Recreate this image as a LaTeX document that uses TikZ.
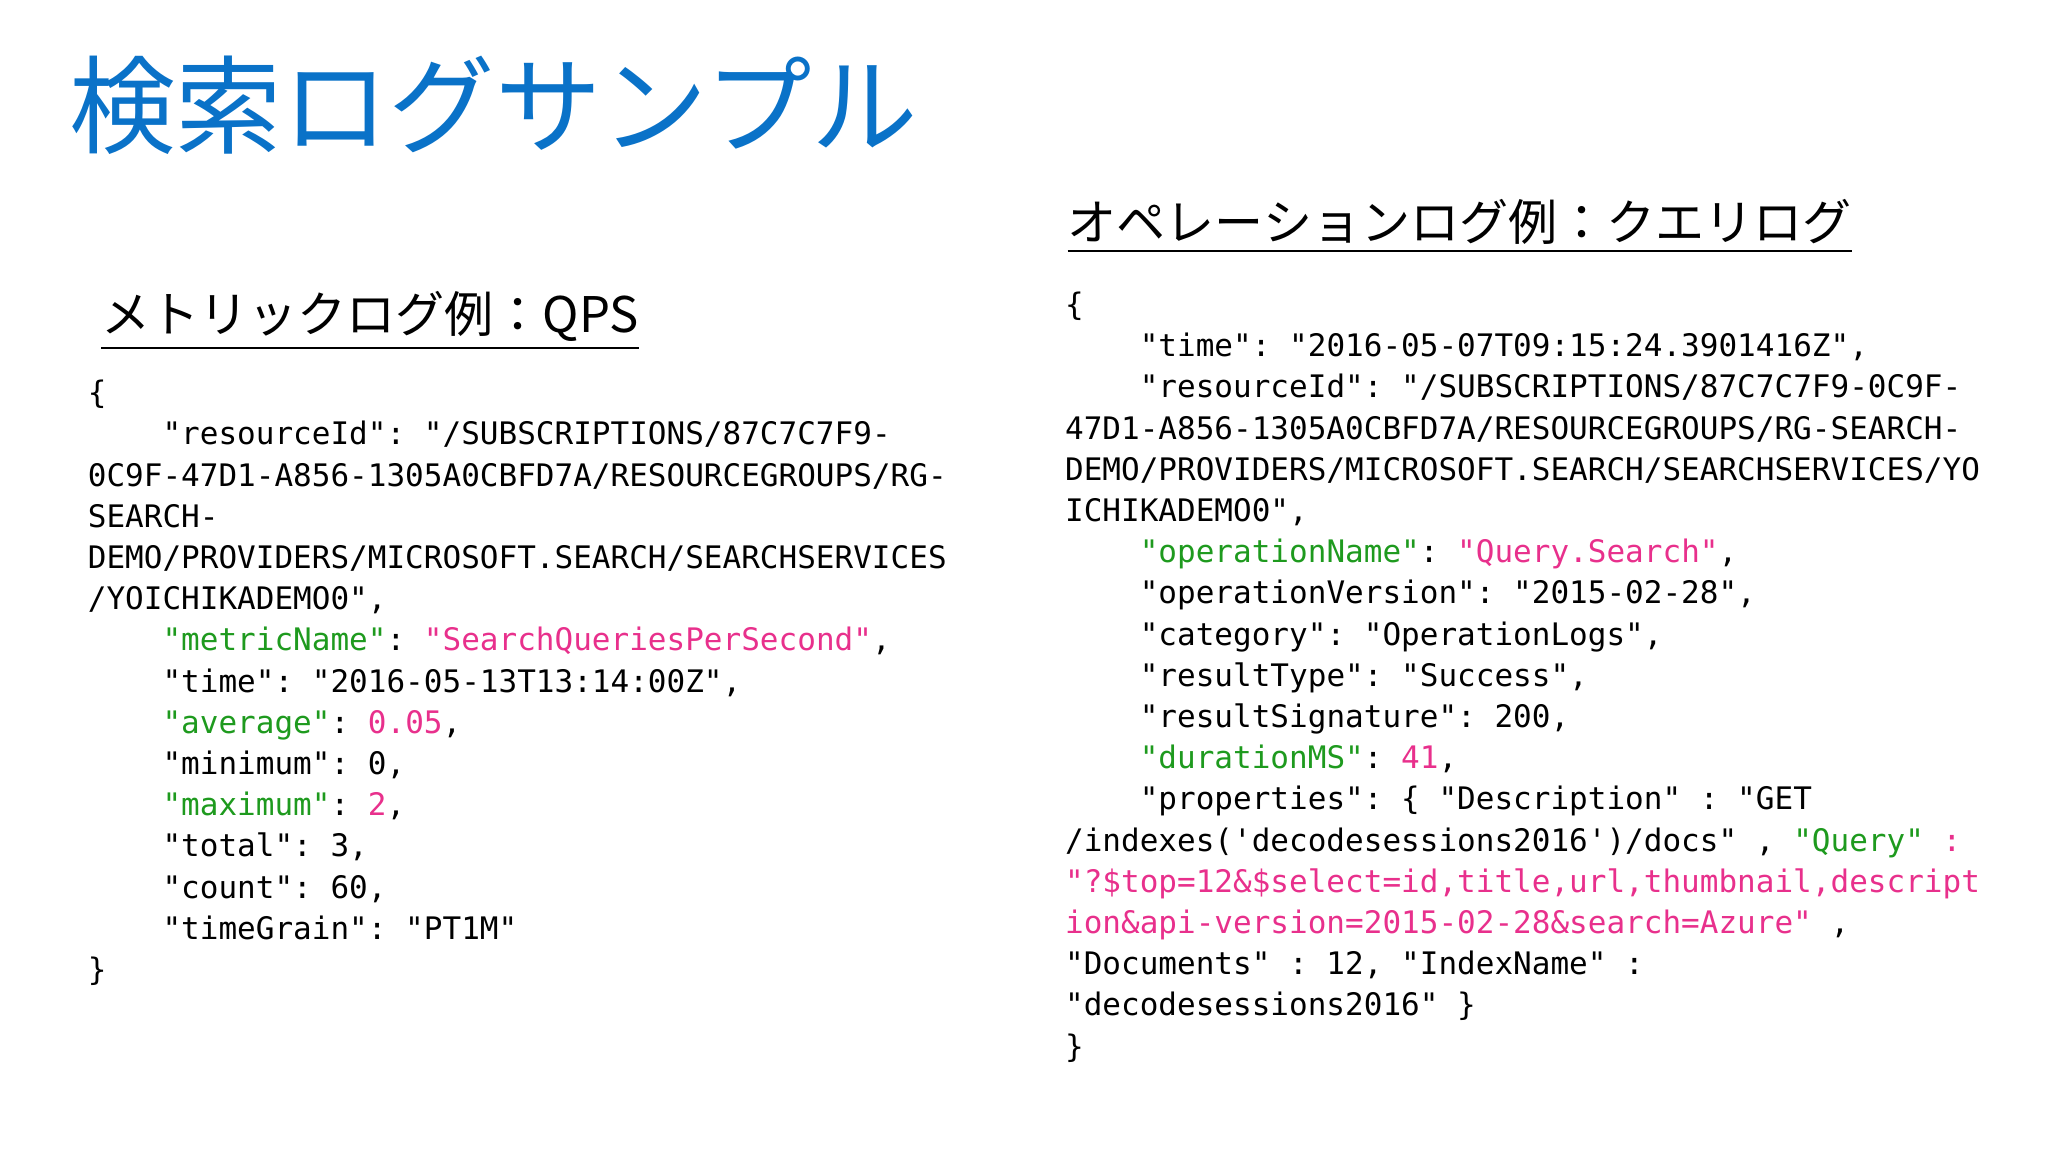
\documentclass[tikz,border=0pt]{standalone}
\usepackage{fontspec}
\usepackage{xcolor}
\newfontfamily\jpfont{Noto Sans CJK JP}
\setmonofont{DejaVu Sans Mono}
\definecolor{ttl}{HTML}{0A72C8}
\definecolor{kgreen}{HTML}{1E9A1E}
\definecolor{kpink}{HTML}{E8308C}
\newcommand{\kG}[1]{\textcolor{kgreen}{#1}}
\newcommand{\kP}[1]{\textcolor{kpink}{#1}}
\newcommand{\kI}{\phantom{xxxx}}
\begin{document}
\begin{tikzpicture}[x=0.1mm,y=-0.1mm,
  code/.style={anchor=north west,inner sep=0,align=left,font=\ttfamily\fontsize{6.7}{8.9}\selectfont},
  head/.style={anchor=west,inner sep=0,font=\jpfont\fontsize{10.6}{12}\selectfont}]
\useasboundingbox (0,0) rectangle (1555,875);
\node[anchor=west,inner sep=0,text=ttl,font=\jpfont\fontsize{23}{26}\selectfont] (title) at (52,80) {検索ログサンプル};
\node[head] (h1) at (76,244) {\underline{メトリックログ例：QPS}};
\node[head] (h2) at (810,172) {\underline{オペレーションログ例：クエリログ}};
\node[code] (left) at (66,288) {\{\\
\kI"resourceId": "/SUBSCRIPTIONS/87C7C7F9-\\
0C9F-47D1-A856-1305A0CBFD7A/RESOURCEGROUPS/RG-\\
SEARCH-\\
DEMO/PROVIDERS/MICROSOFT.SEARCH/SEARCHSERVICES\\
/YOICHIKADEMO0",\\
\kI\kG{"metricName"}: \kP{"SearchQueriesPerSecond"},\\
\kI"time": "2016-05-13T13:14:00Z",\\
\kI\kG{"average"}: \kP{0.05},\\
\kI"minimum": 0,\\
\kI\kG{"maximum"}: \kP{2},\\
\kI"total": 3,\\
\kI"count": 60,\\
\kI"timeGrain": "PT1M"\\
\}};
\node[code] (right) at (808,221) {\{\\
\kI"time": "2016-05-07T09:15:24.3901416Z",\\
\kI"resourceId": "/SUBSCRIPTIONS/87C7C7F9-0C9F-\\
47D1-A856-1305A0CBFD7A/RESOURCEGROUPS/RG-SEARCH-\\
DEMO/PROVIDERS/MICROSOFT.SEARCH/SEARCHSERVICES/YO\\
ICHIKADEMO0",\\
\kI\kG{"operationName"}: \kP{"Query.Search"},\\
\kI"operationVersion": "2015-02-28",\\
\kI"category": "OperationLogs",\\
\kI"resultType": "Success",\\
\kI"resultSignature": 200,\\
\kI\kG{"durationMS"}: \kP{41},\\
\kI"properties": \{ "Description" : "GET\\
/indexes('decodesessions2016')/docs" , \kG{"Query"} \kP{:}\\
\kP{"?\$top=12\&\$select=id,title,url,thumbnail,descript}\\
\kP{ion\&api-version=2015-02-28\&search=Azure"} ,\\
"Documents" : 12, "IndexName" :\\
"decodesessions2016" \}\\
\}};
\end{tikzpicture}
\end{document}
